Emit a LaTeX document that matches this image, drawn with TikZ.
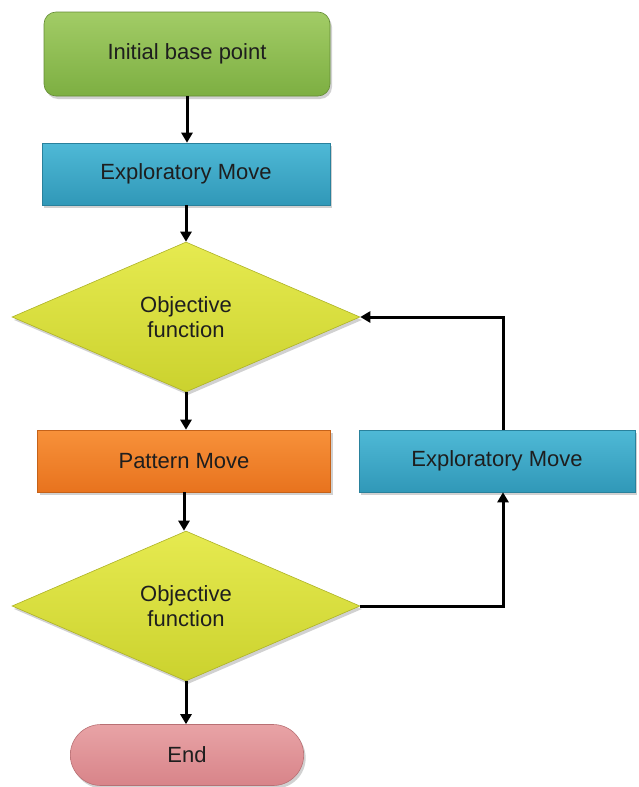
\documentclass[tikz,border=0pt]{standalone}
\usepackage{fontspec}
\setmainfont{Liberation Sans}
\usetikzlibrary{shapes.geometric,shapes.misc,shadows,arrows.meta}
\definecolor{grnT}{HTML}{A2CC66}
\definecolor{grnB}{HTML}{7DAF42}
\definecolor{tealT}{HTML}{4FB9D6}
\definecolor{tealB}{HTML}{3098B8}
\definecolor{yelT}{HTML}{E6EA50}
\definecolor{yelB}{HTML}{CBD22E}
\definecolor{orT}{HTML}{F7913A}
\definecolor{orB}{HTML}{E8731E}
\definecolor{pkT}{HTML}{E8A3A6}
\definecolor{pkB}{HTML}{D88489}
\definecolor{txt}{HTML}{1E1E1E}
\tikzset{
  base/.style={font=\fontsize{22}{25.5}\selectfont, text=txt, align=center,
    drop shadow={shadow xshift=2pt, shadow yshift=-3pt, opacity=0.3, fill=black!60}},
  greenbox/.style={base, rectangle, rounded corners=12pt, minimum width=286pt, minimum height=84pt,
    top color=grnT, bottom color=grnB, draw=grnB!80!black, line width=0.6pt},
  tealbox/.style={base, rectangle, minimum width=288pt, minimum height=62pt,
    top color=tealT, bottom color=tealB, draw=tealB!85!black, line width=0.6pt},
  orangebox/.style={base, rectangle, minimum width=293pt, minimum height=62pt,
    top color=orT, bottom color=orB, draw=orB!85!black, line width=0.6pt},
  decision/.style={base, diamond, inner sep=0pt, minimum width=348pt, minimum height=150pt,
    top color=yelT, bottom color=yelB, draw=yelB!85!black, line width=0.6pt},
  endbox/.style={base, rounded rectangle, minimum width=240pt, minimum height=61pt,
    top color=pkT, bottom color=pkB, draw=pkB!85!black, line width=0.6pt},
  conn/.style={line width=3pt, draw=black, -{Triangle[length=10pt,width=11pt]}}
}
\begin{document}
\begin{tikzpicture}[x=1pt,y=-1pt]
\useasboundingbox (0,0) rectangle (638,787);
\node[greenbox] (init) at (187,54) {Initial base point};
\node[tealbox] (exp1) at (186,174) {Exploratory Move};
\node[decision] (obj1) at (186,317) {Objective\\function};
\node[orangebox] (pat) at (184,461) {Pattern Move};
\node[tealbox, minimum width=276pt] (exp2) at (497,461) {Exploratory Move};
\node[decision] (obj2) at (186,606) {Objective\\function};
\node[endbox] (end) at (187,755) {End};
\coordinate (c1) at (503,606);
\coordinate (c2) at (503,317);
\draw[conn] (init.south) -- (init.south |- exp1.north);
\draw[conn] (exp1.south) -- (obj1.north);
\draw[conn] (obj1.south) -- (obj1.south |- pat.north);
\draw[conn] (pat.south) -- (pat.south |- obj2.north);
\draw[conn] (obj2.south) -- (obj2.south |- end.north);
\draw[conn] (obj2.east) -- (c1) -- (c1 |- exp2.south);
\draw[conn] (c1 |- exp2.north) -- (c2) -- (obj1.east);
\end{tikzpicture}
\end{document}
